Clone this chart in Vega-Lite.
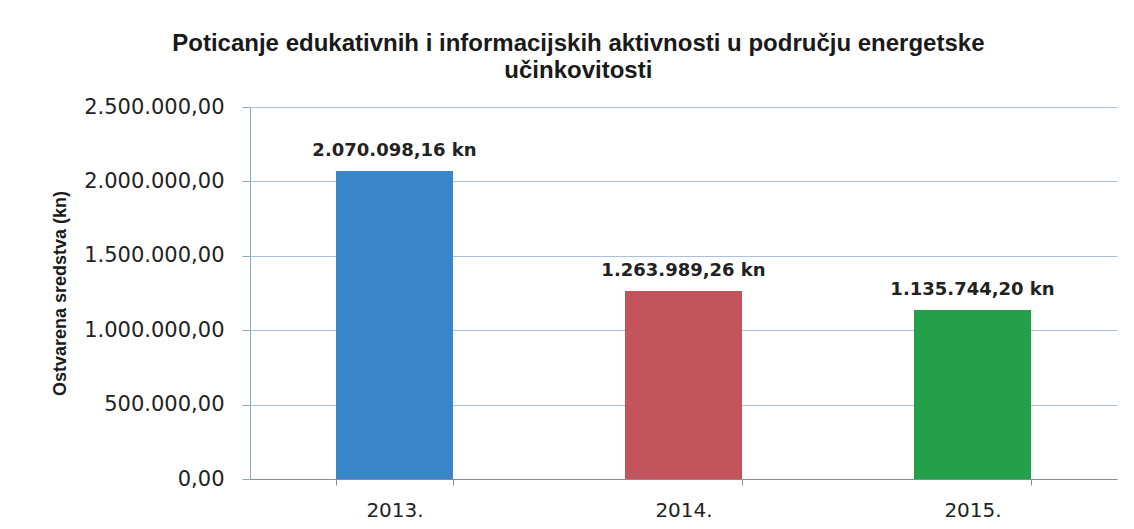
{
  "$schema": "https://vega.github.io/schema/vega-lite/v6.json",
  "autosize": {"type": "none"},
  "width": 867,
  "height": 372,
  "padding": {"left": 250, "top": 107, "right": 17, "bottom": 50},
  "background": "#ffffff",
  "title": {
    "text": ["Poticanje edukativnih i informacijskih aktivnosti u području energetske", "učinkovitosti"],
    "anchor": "middle",
    "frame": "bounds",
    "font": "Liberation Sans",
    "fontSize": 24,
    "fontWeight": "bold",
    "color": "#1a1a1a",
    "lineHeight": 27,
    "offset": 13,
    "dx": -6
  },
  "config": {
    "locale": {
      "number": {"decimal": ",", "thousands": ".", "grouping": [3], "currency": ["", " kn"]}
    },
    "view": {"stroke": null}
  },
  "data": {
    "values": [
      {"godina": "2013.", "iznos": 2070098.16},
      {"godina": "2014.", "iznos": 1263989.26},
      {"godina": "2015.", "iznos": 1135744.20}
    ]
  },
  "encoding": {
    "x": {
      "field": "godina",
      "type": "nominal",
      "sort": null,
      "scale": {"paddingInner": 0.595, "paddingOuter": 0.2975},
      "axis": {
        "title": null,
        "labelAngle": 0,
        "labelFont": "DejaVu Sans",
        "labelFontSize": 20,
        "labelColor": "#222222",
        "labelPadding": 15,
        "tickBand": "extent",
        "tickSize": 6,
        "tickColor": "#8c8c8c",
        "domainColor": "#8c8c8c",
        "grid": false
      }
    },
    "y": {
      "field": "iznos",
      "type": "quantitative",
      "scale": {"domain": [0, 2500000]},
      "axis": {
        "title": "Ostvarena sredstva (kn)",
        "titleFont": "Liberation Sans",
        "titleFontSize": 18,
        "titleFontWeight": "bold",
        "titleColor": "#1a1a1a",
        "titlePadding": 14,
        "values": [0, 500000, 1000000, 1500000, 2000000, 2500000],
        "format": ",.2f",
        "labelFont": "DejaVu Sans",
        "labelFontSize": 21,
        "labelColor": "#222222",
        "labelPadding": 18,
        "tickSize": 8,
        "tickColor": "#8fa6c2",
        "domainColor": "#8fa6c2",
        "gridColor": "#a9c0da",
        "gridWidth": 1
      }
    }
  },
  "layer": [
    {
      "mark": {"type": "bar"},
      "encoding": {
        "color": {
          "field": "godina",
          "type": "nominal",
          "scale": {"domain": ["2013.", "2014.", "2015."], "range": ["#3a86cb", "#c4545b", "#24a04b"]},
          "legend": null
        }
      }
    },
    {
      "mark": {
        "type": "text",
        "baseline": "alphabetic",
        "dy": -15,
        "font": "DejaVu Sans",
        "fontSize": 18,
        "fontWeight": "bold",
        "color": "#222222"
      },
      "encoding": {
        "text": {"field": "iznos", "type": "quantitative", "format": "$,.2f"}
      }
    }
  ]
}
